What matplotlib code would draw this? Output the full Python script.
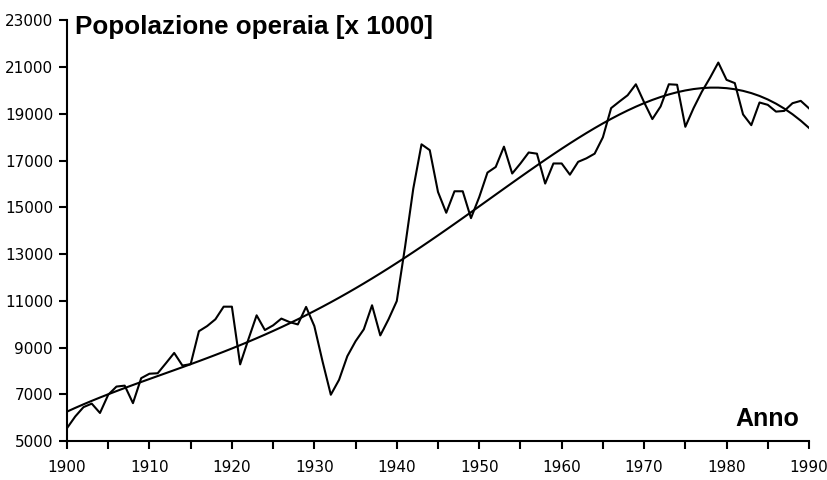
import numpy as np
import matplotlib
matplotlib.use("Agg")
import matplotlib.pyplot as plt
from matplotlib.ticker import MultipleLocator

years = list(range(1900, 1991))
workers = [
    5550, 6050, 6450, 6600, 6200, 6980, 7330, 7370, 6620, 7690,
    7880, 7900, 8330, 8770, 8230, 8290, 9700, 9920, 10210, 10750,
    10750, 8280, 9350, 10380, 9750, 9950, 10240, 10090, 9990, 10740,
    9920, 8400, 6980, 7620, 8630, 9270, 9780, 10810, 9520, 10210,
    10990, 13300, 15800, 17700, 17450, 15660, 14770, 15690, 15690, 14540,
    15440, 16490, 16730, 17600, 16450, 16880, 17350, 17300, 16020, 16880,
    16880, 16400, 16950, 17100, 17300, 18000, 19250, 19530, 19800, 20270,
    19500, 18780, 19320, 20270, 20250, 18450, 19250, 19950, 20550, 21200,
    20460, 20320, 18980, 18520, 19490, 19390, 19100, 19130, 19460, 19560,
    19240,
]
trend_degree = 4
x_ticks = [1900, 1910, 1920, 1930, 1940, 1950, 1960, 1970, 1980, 1990]
y_ticks = [5000, 7000, 9000, 11000, 13000, 15000, 17000, 19000, 21000, 23000]
title = "Popolazione operaia [x 1000]"
x_label = "Anno"

tick_font = ["Liberation Sans Narrow", "DejaVu Sans Condensed", "DejaVu Sans"]
bold_font = ["Liberation Sans", "Arial", "DejaVu Sans"]

fig = plt.figure(figsize=(8.27, 4.8), dpi=100)
ax = fig.add_axes([67 / 827, 1 - 441 / 480, (809 - 67) / 827, (441 - 20.5) / 480])

# observed series
ax.plot(years, workers, color="black", lw=1.5, zorder=3)

# polynomial trend line (least-squares fit of the series)
yr = np.array(years, dtype=float)
t = (yr - 1945) / 45
coef = np.polyfit(t, np.array(workers, dtype=float), trend_degree)
ax.plot(years, np.polyval(coef, t), color="black", lw=1.5, zorder=4)

ax.set_xlim(1900, 1990)
ax.set_ylim(5000, 23000)
ax.set_xticks(x_ticks)
ax.xaxis.set_minor_locator(MultipleLocator(5))
ax.set_yticks(y_ticks)
for s in ["top", "right"]:
    ax.spines[s].set_visible(False)
for s in ["left", "bottom"]:
    ax.spines[s].set_linewidth(1.5)
ax.tick_params(axis="both", which="both", direction="out", length=6, width=1.5, colors="black")
ax.tick_params(axis="x", pad=8)
ax.tick_params(axis="y", pad=4)
for lab in ax.get_xticklabels() + ax.get_yticklabels():
    lab.set_family(tick_font)
    lab.set_fontsize(11)

fig.text(75 / 827, 1 - 34 / 480, title, fontsize=18.7, fontweight="bold", family=bold_font, va="baseline", ha="left")
fig.text(735 / 827, 1 - 426 / 480, x_label, fontsize=18, fontweight="bold", family=bold_font, va="baseline", ha="left")

fig.savefig("out.png", dpi=100)
